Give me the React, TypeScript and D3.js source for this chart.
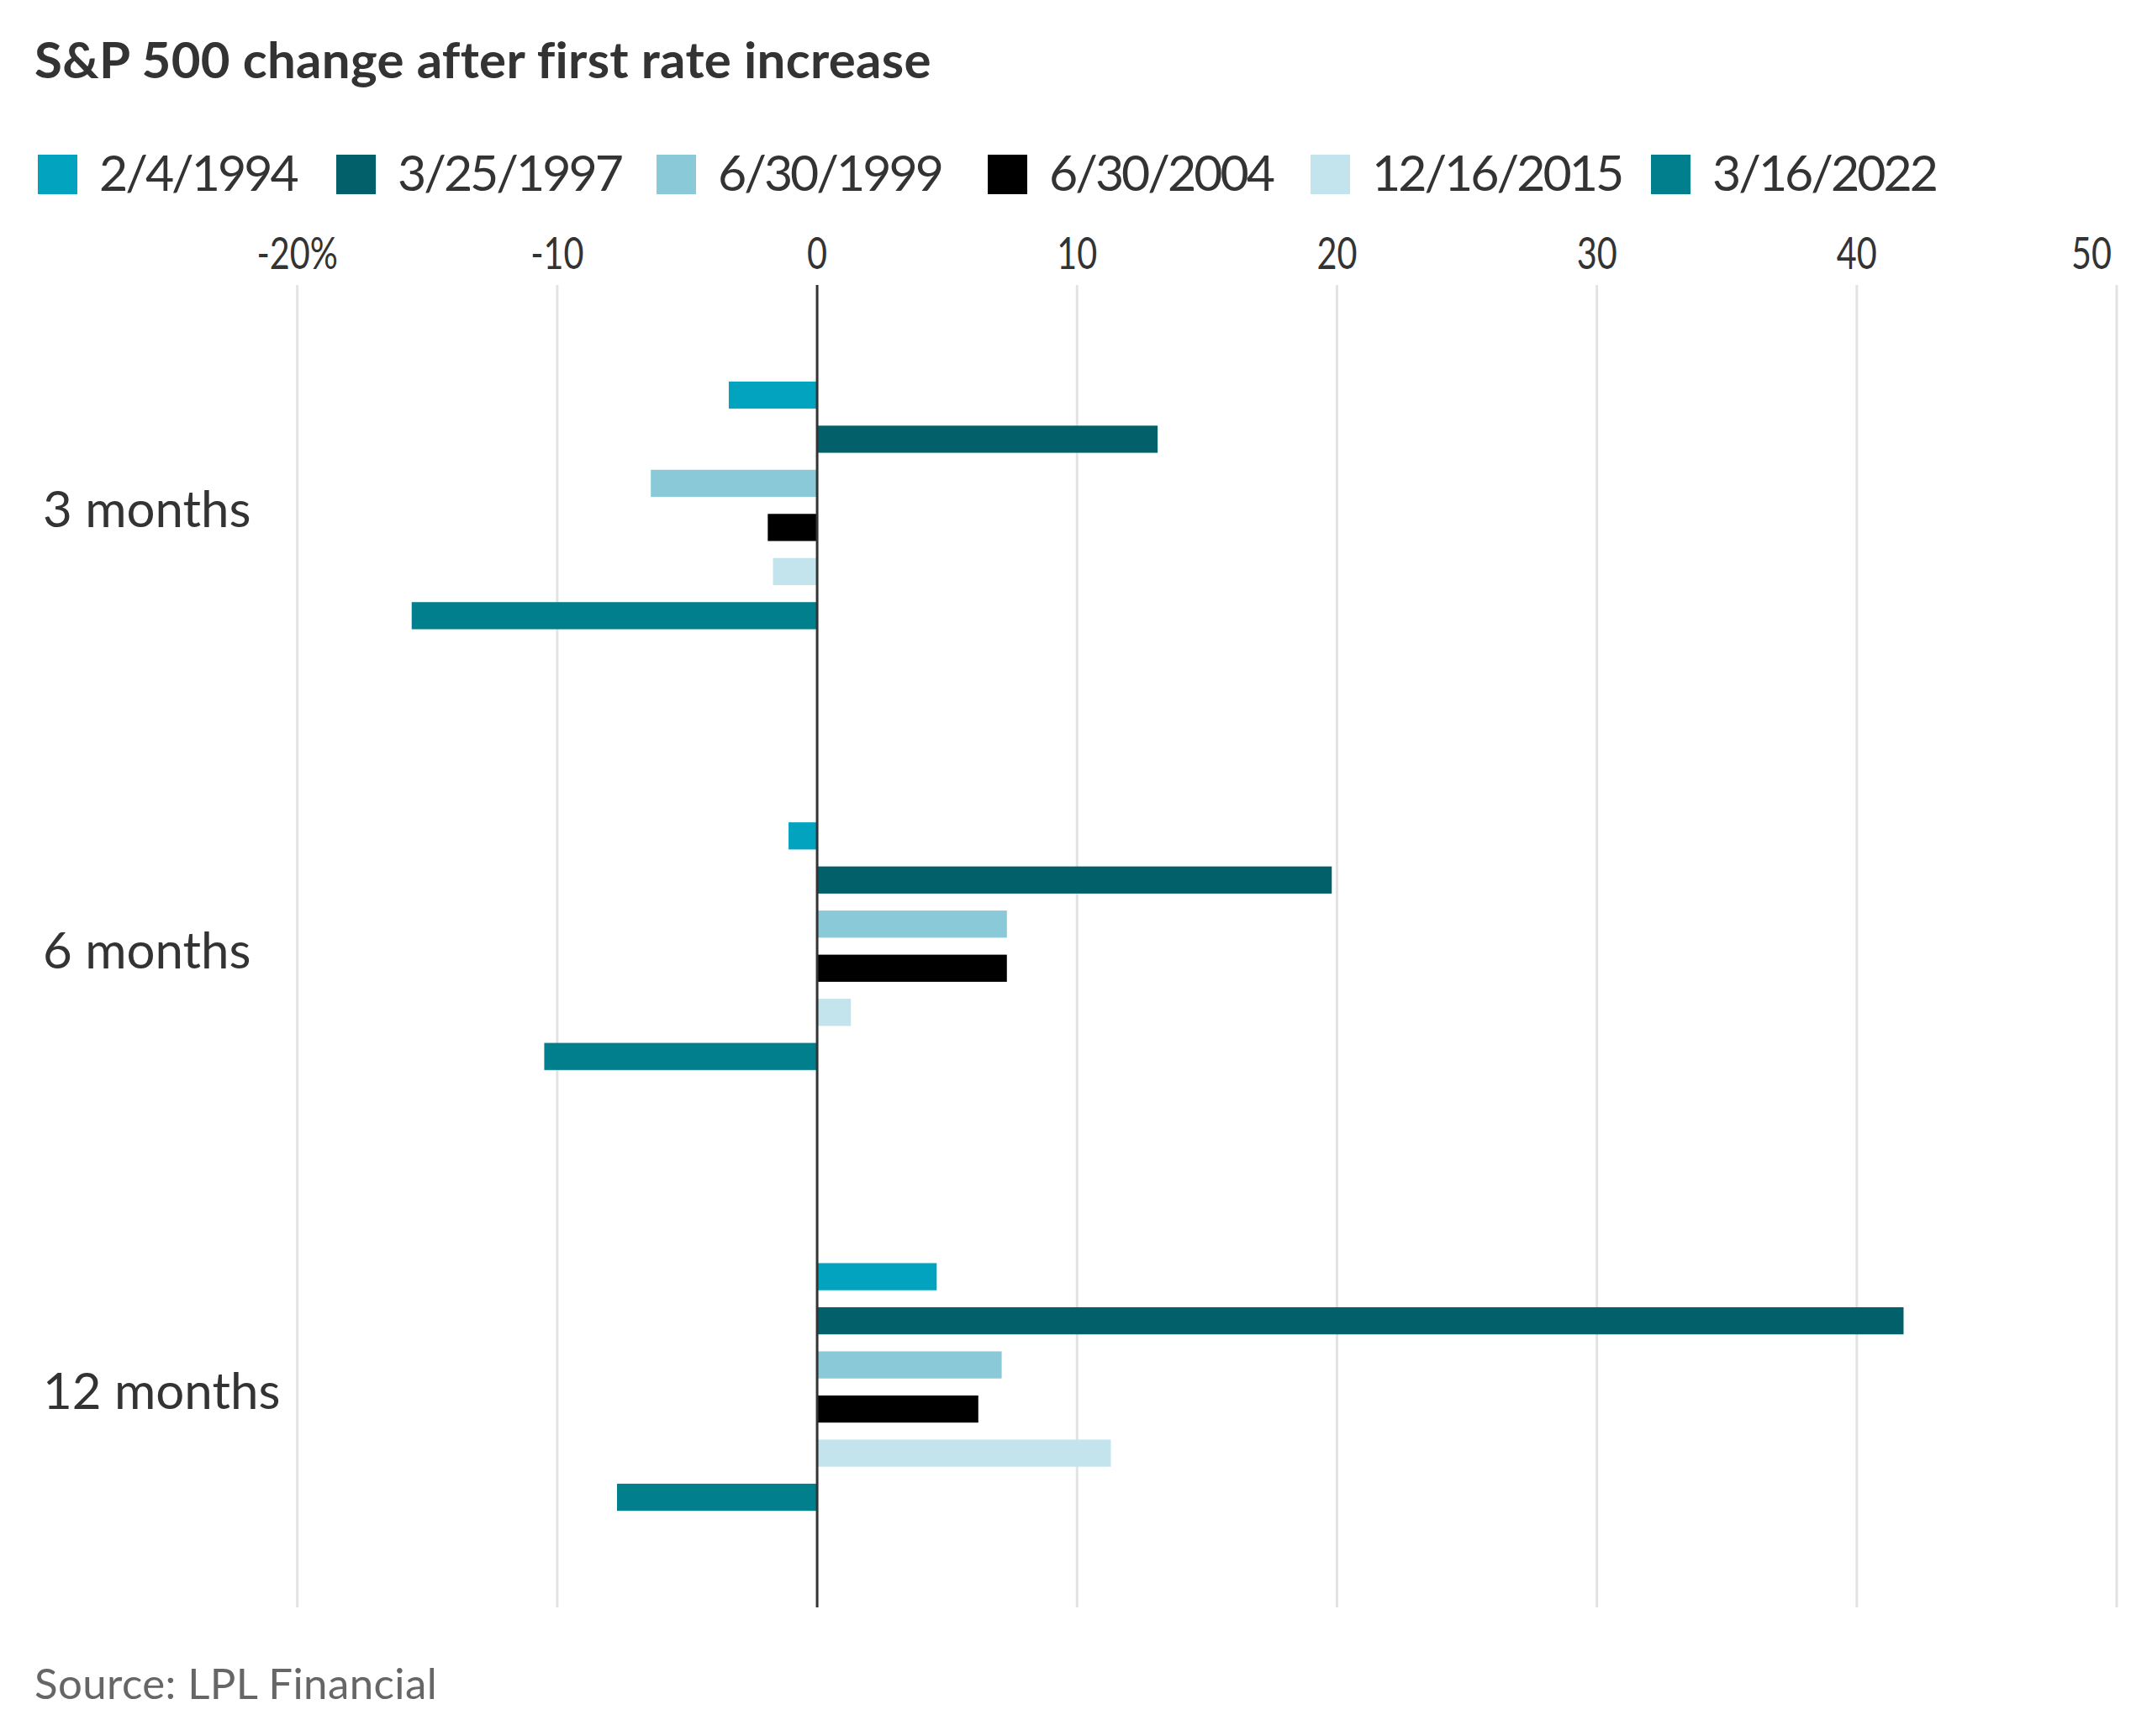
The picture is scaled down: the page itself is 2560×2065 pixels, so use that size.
import { useEffect, useRef } from "react";
import * as d3 from "d3";

const WIDTH = 2560;
const HEIGHT = 2065;
const PLOT = { top: 339, bottom: 1912, left: 353.7, right: 2518 };
// left edge of each legend swatch, as laid out in the original
const LEGEND_X = [45, 400, 781, 1175, 1559, 1964];

const periods = ["3 months", "6 months", "12 months"];
const dates = ["2/4/1994", "3/25/1997", "6/30/1999", "6/30/2004", "12/16/2015", "3/16/2022"];
const dateColors = ["#01a3bf", "#02606a", "#8acad8", "#000000", "#c4e4ed", "#017f8d"];

// % change of the S&P 500 after each first hike, per period (3, 6, 12 months)
const change1994 = [-3.4, -1.1, 4.6];
const change1997 = [13.1, 19.8, 41.8];
const change1999 = [-6.4, 7.3, 7.1];
const change2004 = [-1.9, 7.3, 6.2];
const change2015 = [-1.7, 1.3, 11.3];
const change2022 = [-15.6, -10.5, -7.7];

const xTicks = [-20, -10, 0, 10, 20, 30, 40, 50];

const FONT = "Lato, Roboto, sans-serif";
const TEXT = "#333333";
const TICK_SQUEEZE = 0.78; // tick labels use a narrow face in the original

export default function App() {
  const svgRef = useRef<SVGSVGElement>(null);

  useEffect(() => {
    if (!svgRef.current) return;
    const svg = d3.select(svgRef.current);
    svg.selectAll("*").remove();

    const series = [change1994, change1997, change1999, change2004, change2015, change2022];

    const xScale = d3.scaleLinear().domain([-20, 50]).range([PLOT.left, PLOT.right]);
    const yGroup = d3
      .scaleBand<string>()
      .domain(periods)
      .range([PLOT.top, PLOT.bottom])
      .paddingInner(0.438)
      .paddingOuter(0.219);
    const ySeries = d3
      .scaleBand<string>()
      .domain(dates)
      .range([0, yGroup.bandwidth()])
      .paddingInner(0.385);
    const color = d3.scaleOrdinal<string, string>().domain(dates).range(dateColors);

    // title
    svg
      .append("text")
      .attr("x", 41)
      .attr("y", 93)
      .attr("font-family", FONT)
      .attr("font-weight", 700)
      .attr("font-size", 60)
      .attr("letter-spacing", 0.3)
      .attr("fill", TEXT)
      .text("S&P 500 change after first rate increase");

    // legend
    const legendItems = svg
      .append("g")
      .selectAll("g")
      .data(dates)
      .join("g")
      .attr("transform", (d, i) => `translate(${LEGEND_X[i]},0)`);

    legendItems
      .append("rect")
      .attr("y", 184)
      .attr("width", 47)
      .attr("height", 47)
      .attr("fill", (d) => color(d));

    legendItems
      .append("text")
      .attr("x", 73)
      .attr("y", 227)
      .attr("font-family", FONT)
      .attr("font-size", 59)
      .attr("letter-spacing", -3)
      .attr("fill", TEXT)
      .text((d) => d);

    // gridlines + tick labels
    const grid = svg.append("g");
    grid
      .selectAll("line")
      .data(xTicks.filter((t) => t !== 0))
      .join("line")
      .attr("x1", (d) => xScale(d))
      .attr("x2", (d) => xScale(d))
      .attr("y1", PLOT.top)
      .attr("y2", PLOT.bottom)
      .attr("stroke", "#e3e3e3")
      .attr("stroke-width", 3);

    grid
      .selectAll("g")
      .data(xTicks)
      .join("g")
      .attr("transform", (d, i) => {
        const x = i === xTicks.length - 1 ? xScale(d) - 6 : xScale(d);
        return `translate(${x},320) scale(${TICK_SQUEEZE},1)`;
      })
      .append("text")
      .attr("text-anchor", (d, i) => (i === xTicks.length - 1 ? "end" : "middle"))
      .attr("font-family", FONT)
      .attr("font-size", 53)
      .attr("fill", TEXT)
      .text((d, i) => (i === 0 ? `${d}%` : `${d}`));

    // bars
    const groups = svg
      .append("g")
      .selectAll("g")
      .data(periods)
      .join("g")
      .attr("transform", (p) => `translate(0,${yGroup(p)})`);

    groups
      .selectAll("rect")
      .data((p, pi) => dates.map((d, si) => ({ date: d, value: series[si][pi] })))
      .join("rect")
      .attr("x", (d) => xScale(Math.min(0, d.value)))
      .attr("width", (d) => Math.abs(xScale(d.value) - xScale(0)))
      .attr("y", (d) => ySeries(d.date)!)
      .attr("height", ySeries.bandwidth())
      .attr("fill", (d) => color(d.date));

    // period labels
    svg
      .append("g")
      .selectAll("text")
      .data(periods)
      .join("text")
      .attr("x", 51)
      .attr("y", (p) => yGroup(p)! + yGroup.bandwidth() / 2 + 26)
      .attr("font-family", FONT)
      .attr("font-size", 60)
      .attr("fill", TEXT)
      .text((p) => p);

    // zero line on top
    svg
      .append("line")
      .attr("x1", xScale(0))
      .attr("x2", xScale(0))
      .attr("y1", PLOT.top)
      .attr("y2", PLOT.bottom)
      .attr("stroke", TEXT)
      .attr("stroke-width", 3);

    // source
    svg
      .append("text")
      .attr("x", 41)
      .attr("y", 2021)
      .attr("font-family", FONT)
      .attr("font-size", 51)
      .attr("letter-spacing", 0.4)
      .attr("fill", "#666666")
      .text("Source: LPL Financial");
  }, []);

  return (
    <div style={{ position: "absolute", left: 0, top: 0 }}>
      <svg ref={svgRef} width={WIDTH} height={HEIGHT} style={{ display: "block", background: "#fff" }} />
    </div>
  );
}
